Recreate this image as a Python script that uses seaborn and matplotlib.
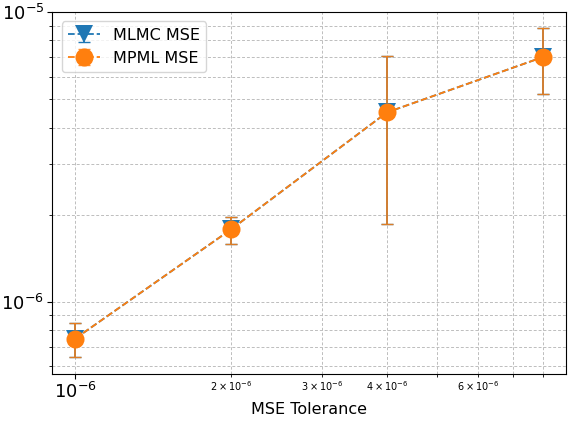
import numpy as np
import matplotlib
matplotlib.use("Agg")
import matplotlib.pyplot as plt
import seaborn as sns
import pandas as pd
from matplotlib.container import ErrorbarContainer

# Data
tolerance = [1e-6, 2e-6, 4e-6, 8e-6]
mlmc_mse = [7.47e-7, 1.78e-6, 4.51e-6, 7.0e-6]
mlmc_lo = [6.43e-7, 1.58e-6, 1.86e-6, 5.24e-6]
mlmc_hi = [8.47e-7, 1.97e-6, 7.07e-6, 8.81e-6]
mpml_mse = [7.47e-7, 1.78e-6, 4.51e-6, 7.0e-6]
mpml_lo = [6.43e-7, 1.58e-6, 1.86e-6, 5.24e-6]
mpml_hi = [8.47e-7, 1.97e-6, 7.07e-6, 8.81e-6]
series_names = ["MLMC MSE", "MPML MSE"]

pal = sns.color_palette("tab10")
blue, orange = pal[0], pal[1]

fig = plt.figure(figsize=(5.68, 4.21), dpi=100)
ax = fig.add_axes([0.0915, 0.112, 0.905, 0.860])

handles = []
specs = [
    (mlmc_mse, mlmc_lo, mlmc_hi, blue, "v", 1.0),
    (mpml_mse, mpml_lo, mpml_hi, orange, "o", 0.85),
]
for name, (y, lo, hi, col, mk, ea) in zip(series_names, specs):
    y = np.array(y); lo = np.array(lo); hi = np.array(hi)
    df = pd.DataFrame({"x": tolerance, "y": y})
    sns.lineplot(data=df, x="x", y="y", ax=ax, color=col, linestyle="--",
                 marker=mk, markersize=13, markeredgewidth=0, linewidth=1.3,
                 legend=False, zorder=3)
    line = ax.get_lines()[-1]
    eb = ax.errorbar(tolerance, y, yerr=[y - lo, hi - y], fmt="none",
                     ecolor=col, elinewidth=1.3, capsize=4, alpha=ea, zorder=2)
    cont = ErrorbarContainer((line, eb.lines[1], eb.lines[2]),
                             has_xerr=False, has_yerr=True, label=name)
    handles.append(cont)

ax.set_xscale("log")
ax.set_yscale("log")
ax.set_xlabel("MSE Tolerance", fontsize=11.5, labelpad=0)
ax.set_ylabel("")
ax.grid(True, which="both", linestyle=(0, (3, 2)), color="#bdbdbd", linewidth=0.7)
ax.set_axisbelow(True)
ax.tick_params(which="major", labelsize=13, pad=2)
ax.tick_params(which="minor", labelsize=7, pad=2)
for s in ax.spines.values():
    s.set_color("black")
ax.legend(handles=handles, labels=series_names, loc="upper left", fontsize=11.5,
          handlelength=2.0, borderaxespad=0.6)

fig.savefig("out.png", dpi=100)
